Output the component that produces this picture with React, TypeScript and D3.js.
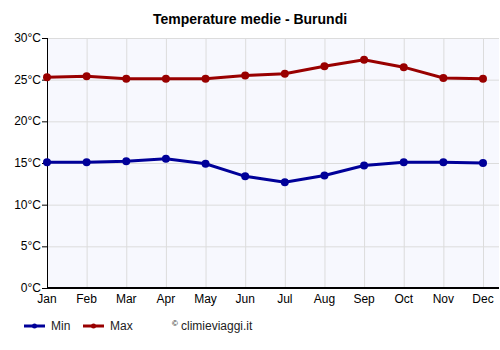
import React, { useEffect, useRef } from 'react';
import * as d3 from 'd3';

const months = ['Jan', 'Feb', 'Mar', 'Apr', 'May', 'Jun', 'Jul', 'Aug', 'Sep', 'Oct', 'Nov', 'Dec'];
const minTemps = [15.1, 15.1, 15.2, 15.5, 14.9, 13.4, 12.7, 13.5, 14.7, 15.1, 15.1, 15.0];
const maxTemps = [25.3, 25.4, 25.1, 25.1, 25.1, 25.5, 25.7, 26.6, 27.4, 26.5, 25.2, 25.1];
const yTicks = [0, 5, 10, 15, 20, 25, 30];

const series = [
  { name: 'Min', values: minTemps, color: '#000099' },
  { name: 'Max', values: maxTemps, color: '#990000' },
];

export default function App() {
  const ref = useRef<SVGSVGElement>(null);

  useEffect(() => {
    const width = 500;
    const height = 350;
    const margin = { top: 38, left: 47, bottom: 62, right: 1 };
    const iwidth = width - margin.left - margin.right;
    const iheight = height - margin.top - margin.bottom;

    const svg = d3.select(ref.current);
    svg.html('');
    svg.attr('width', width).attr('height', height);

    svg.append('text')
      .attr('x', 250).attr('y', 24)
      .attr('text-anchor', 'middle')
      .style('font', 'bold 14px "Liberation Sans", Arial, sans-serif')
      .text('Temperature medie - Burundi');

    const g = svg.append('g').attr('transform', `translate(${margin.left},${margin.top})`);

    const x = d3.scalePoint().domain(months).range([0, 436]);
    const y = d3.scaleLinear().domain([0, 30]).range([iheight, 0]);

    g.append('rect').attr('width', iwidth).attr('height', iheight).attr('fill', '#f7f8fe');

    g.selectAll('.hgrid').data(yTicks).enter().append('line')
      .attr('x1', 0).attr('x2', iwidth)
      .attr('y1', (d) => y(d) + 0.5).attr('y2', (d) => y(d) + 0.5)
      .attr('stroke', '#dcdcdc');

    g.selectAll('.vgrid').data(months).enter().append('line')
      .attr('x1', (d) => x(d)! + 0.5).attr('x2', (d) => x(d)! + 0.5)
      .attr('y1', 0).attr('y2', iheight)
      .attr('stroke', '#dcdcdc');

    // left axis
    g.append('line').attr('x1', 0.5).attr('x2', 0.5).attr('y1', 0).attr('y2', iheight)
      .attr('stroke', '#000');
    g.selectAll('.ytick').data(yTicks).enter().append('line')
      .attr('x1', -5).attr('x2', 0)
      .attr('y1', (d) => y(d) + 0.5).attr('y2', (d) => y(d) + 0.5)
      .attr('stroke', '#000');
    g.selectAll('.ylab').data(yTicks).enter().append('text')
      .attr('x', -6).attr('y', (d) => y(d) + 4)
      .attr('text-anchor', 'end')
      .style('font', '12px "Liberation Sans", Arial, sans-serif')
      .text((d) => `${d}°C`);

    // bottom axis
    g.append('line').attr('x1', 0).attr('x2', iwidth).attr('y1', iheight).attr('y2', iheight)
      .attr('stroke', '#000').attr('stroke-width', 2);
    g.selectAll('.xlab').data(months).enter().append('text')
      .attr('x', (d) => x(d)!).attr('y', iheight + 15)
      .attr('text-anchor', 'middle')
      .style('font', '12px "Liberation Sans", Arial, sans-serif')
      .text((d) => d);

    const line = d3.line<number>().x((d, i) => x(months[i])!).y((d) => y(d));

    series.forEach((s) => {
      g.append('path').datum(s.values)
        .attr('d', line)
        .attr('fill', 'none')
        .attr('stroke', s.color)
        .attr('stroke-width', 3);
      g.selectAll(`.dot-${s.name}`).data(s.values).enter().append('circle')
        .attr('cx', (d, i) => x(months[i])!)
        .attr('cy', (d) => y(d))
        .attr('r', 4)
        .attr('fill', s.color);
    });

    // legend
    const lg = svg.append('g').attr('transform', 'translate(24,326)');
    series.forEach((s, i) => {
      const ox = i * 59;
      lg.append('line').attr('x1', ox).attr('x2', ox + 21).attr('y1', 0).attr('y2', 0)
        .attr('stroke', s.color).attr('stroke-width', 3);
      lg.append('circle').attr('cx', ox + 10.5).attr('cy', 0).attr('r', 2.5).attr('fill', s.color);
      lg.append('text').attr('x', ox + 27).attr('y', 4)
        .style('font', '12px "Liberation Sans", Arial, sans-serif')
        .attr('fill', '#222')
        .text(s.name);
    });
    svg.append('text').attr('x', 172).attr('y', 326)
      .style('font', '8px "Liberation Sans", Arial, sans-serif')
      .text('©');
    svg.append('text').attr('x', 181).attr('y', 330)
      .style('font', '12px "Liberation Sans", Arial, sans-serif')
      .attr('fill', '#222')
      .text('climieviaggi.it');
  }, []);

  return <svg ref={ref} style={{ position: 'absolute', left: 0, top: 0 }}></svg>;
}
